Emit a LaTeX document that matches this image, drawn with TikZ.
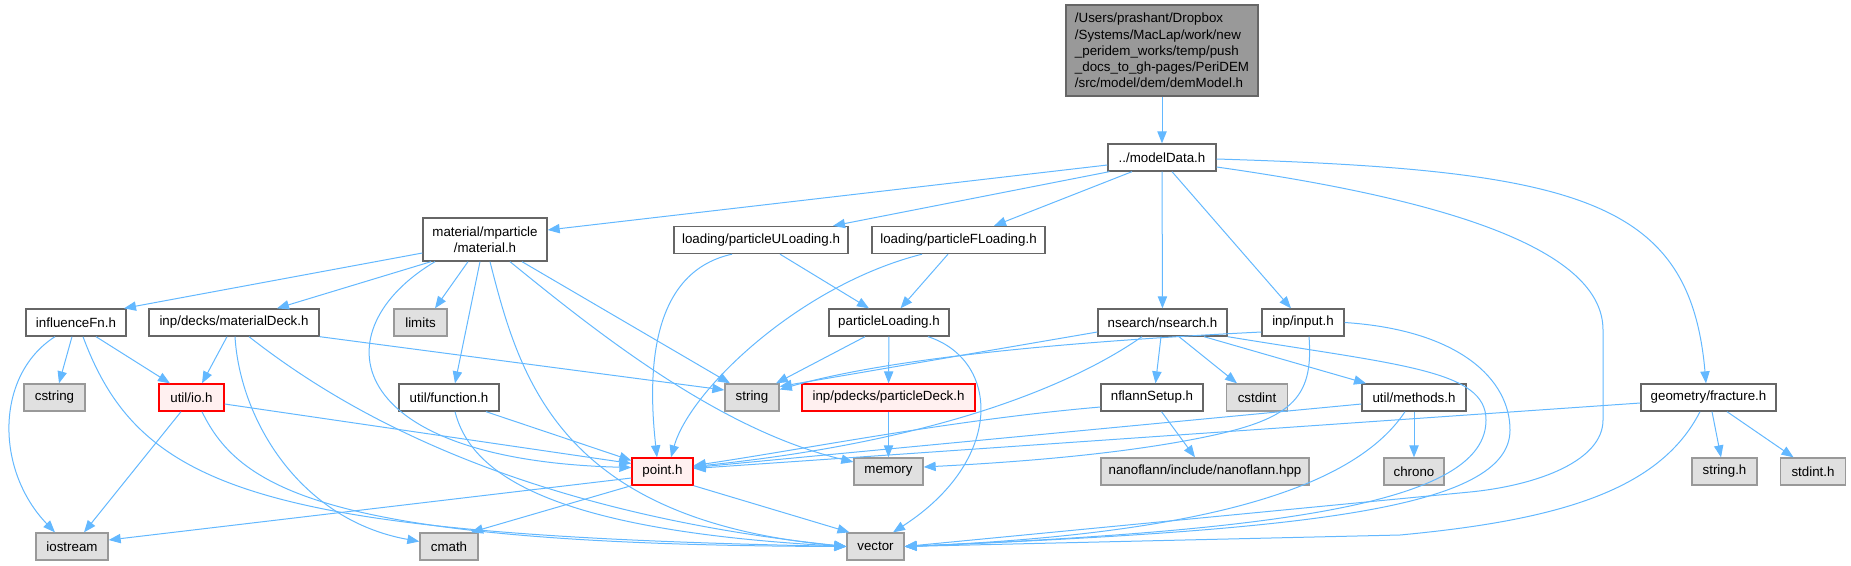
\documentclass[tikz,border=0pt]{standalone}
\usepackage{fontspec}
\setmainfont{Liberation Sans}
\usetikzlibrary{arrows.meta}
\newlength\pxu
\setlength\pxu{0.75pt}
\definecolor{edgeblue}{HTML}{63B8FF}
\definecolor{boxgray}{HTML}{666666}
\definecolor{sysgray}{HTML}{999999}
\definecolor{sysfill}{HTML}{E0E0E0}
\definecolor{topfill}{HTML}{999999}
\definecolor{missfill}{HTML}{FFF0F0}
\begin{document}
\begin{tikzpicture}[x=0.75pt, y=-0.75pt, font=\fontsize{10}{12.2}\selectfont,
    file/.style={draw=boxgray, line width=1pt, fill=white, inner sep=0pt,
                 minimum height=27\pxu},
    sysfile/.style={file, draw=sysgray, fill=sysfill},
    missing/.style={file, draw=red, fill=missfill},
    topfile/.style={file, fill=topfill, align=left, minimum height=91\pxu},
    dep/.style={draw=edgeblue, line width=0.75pt,
                -{Triangle[length=9pt,width=7pt]}}]
  \useasboundingbox (0,0) rectangle (1851,565);
  \node[topfile, minimum width=192\pxu] (demModel) at (1162,50.5)
    {/Users/prashant/Dropbox\\/Systems/MacLap/work/new\\\_peridem\_works/temp/push\\\_docs\_to\_gh-pages/PeriDEM\\/src/model/dem/demModel.h};
  \node[file, minimum width=108\pxu] (modelData) at (1162,157.5) {../modelData.h};
  \node[file, minimum width=124\pxu, minimum height=43\pxu, align=center] (material) at (485,239.5) {material/mparticle\\/material.h};
  \node[file, minimum width=174\pxu] (pULoading) at (761,240) {loading/particleULoading.h};
  \node[file, minimum width=173\pxu] (pFLoading) at (958.5,240) {loading/particleFLoading.h};
  \node[file, minimum width=100\pxu] (influenceFn) at (76,322.5) {influenceFn.h};
  \node[file, minimum width=170\pxu] (materialDeck) at (234,322.5) {inp/decks/materialDeck.h};
  \node[sysfile, minimum width=53\pxu] (limits) at (420.5,322.5) {limits};
  \node[file, minimum width=120\pxu] (pLoading) at (889,322.5) {particleLoading.h};
  \node[file, minimum width=129\pxu] (nsearch) at (1162.5,322.5) {nsearch/nsearch.h};
  \node[file, minimum width=82\pxu] (input) at (1303,322.5) {inp/input.h};
  \node[sysfile, minimum width=61\pxu] (cstring) at (54.5,397.5) {cstring};
  \node[missing, minimum width=65\pxu] (io) at (191.5,397.5) {util/io.h};
  \node[file, minimum width=100\pxu] (function) at (449,397.5) {util/function.h};
  \node[sysfile, minimum width=54\pxu] (string) at (752,397.5) {string};
  \node[missing, minimum width=173\pxu] (pDeck) at (888.5,397.5) {inp/pdecks/particleDeck.h};
  \node[file, minimum width=102\pxu] (nflannSetup) at (1152,397.5) {nflannSetup.h};
  \node[sysfile, minimum width=61\pxu] (cstdint) at (1257,397.5) {cstdint};
  \node[file, minimum width=104\pxu] (methods) at (1414,397.5) {util/methods.h};
  \node[file, minimum width=135\pxu] (fracture) at (1708.5,397.5) {geometry/fracture.h};
  \node[missing, minimum width=61\pxu] (point) at (662.5,471.5) {point.h};
  \node[sysfile, minimum width=69\pxu] (memory) at (888.5,471.5) {memory};
  \node[sysfile, minimum width=208\pxu] (nanoflann) at (1205,471.5) {nanoflann/include/nanoflann.hpp};
  \node[sysfile, minimum width=60\pxu] (chrono) at (1414,471.5) {chrono};
  \node[sysfile, minimum width=65\pxu] (stringh) at (1724.5,471.5) {string.h};
  \node[sysfile, minimum width=65\pxu] (stdinth) at (1813,471.5) {stdint.h};
  \node[sysfile, minimum width=72\pxu] (iostream) at (72,546.5) {iostream};
  \node[sysfile, minimum width=58\pxu] (cmath) at (449,546.5) {cmath};
  \node[sysfile, minimum width=57\pxu] (vector) at (875.5,546.5) {vector};

  \draw[dep] (demModel) -- (modelData);
  \draw[dep] ([yshift=-7.5\pxu]modelData.west) -- ([yshift=9.5\pxu]material.east);
  \draw[dep] ([xshift=2\pxu]modelData.south west) -- ([xshift=72\pxu]pULoading.north);
  \draw[dep] ([xshift=-30\pxu]modelData.south) -- ([xshift=35.5\pxu]pFLoading.north);
  \draw[dep] (modelData) -- (nsearch);
  \draw[dep] ([xshift=10\pxu]modelData.south) -- ([xshift=-12\pxu]input.north);
  \draw[dep] ([yshift=-1.5\pxu]modelData.east) .. controls (1580,170) and (1690,200) .. ([xshift=-2.5\pxu]fracture.north);
  \draw[dep] ([yshift=-9.5\pxu]modelData.east) .. controls (1450,200) and (1603,250) .. (1603,330)
    -- (1603,420) .. controls (1603,460) and (1540,485) .. (1470,492) -- (vector.east);

  \draw[dep] ([yshift=-13.5\pxu]material.west) -- ([xshift=48\pxu]influenceFn.north);
  \draw[dep] ([xshift=-54\pxu]material.south) -- ([xshift=43\pxu]materialDeck.north);
  \draw[dep] ([xshift=-50\pxu]material.south) .. controls (320,330) and (340,460) .. ([yshift=4\pxu]point.west);
  \draw[dep] ([xshift=-17\pxu]material.south) -- ([xshift=14.5\pxu]limits.north);
  \draw[dep] ([xshift=-5\pxu]material.south) -- ([xshift=6\pxu]function.north);
  \draw[dep] ([xshift=5\pxu]material.south) .. controls (520,380) and (560,520) .. (vector.west);
  \draw[dep] ([xshift=25\pxu]material.south) .. controls (600,335) and (720,430) .. ([yshift=9.5\pxu]memory.west);
  \draw[dep] ([xshift=37\pxu]material.south) -- ([xshift=-22\pxu]string.north);

  \draw[dep] ([xshift=-7\pxu]materialDeck.south) -- ([xshift=10.5\pxu]io.north);
  \draw[dep] ([xshift=1\pxu]materialDeck.south) .. controls (240,420) and (300,520) .. ([yshift=5\pxu]cmath.west);
  \draw[dep] ([xshift=15\pxu]materialDeck.south) .. controls (330,400) and (500,510) .. (vector.west);
  \draw[dep] (materialDeck.south east) -- ([yshift=7.5\pxu]string.west);

  \draw[dep] ([xshift=-21\pxu]influenceFn.south) .. controls (-5,375) and (-5,470) .. ([xshift=-17\pxu]iostream.north);
  \draw[dep] ([xshift=-4\pxu]influenceFn.south) -- ([xshift=4.5\pxu]cstring.north);
  \draw[dep] ([xshift=20\pxu]influenceFn.south) -- ([xshift=-21.5\pxu]io.north);
  \draw[dep] ([xshift=7\pxu]influenceFn.south) .. controls (140,490) and (260,535) .. (vector.west);

  \draw[dep] ([xshift=-10.5\pxu]io.south) -- ([xshift=12\pxu]iostream.north);
  \draw[dep] ([xshift=10.5\pxu]io.south) .. controls (240,490) and (330,545) .. (vector.west);
  \draw[dep] ([yshift=-6.5\pxu]io.east) -- ([yshift=8\pxu]point.west);

  \draw[dep] ([xshift=37\pxu]function.south) -- ([yshift=11\pxu]point.west);
  \draw[dep] ([xshift=6\pxu]function.south) .. controls (470,470) and (540,530) .. (vector.west);

  \draw[dep] ([yshift=-6.5\pxu]point.west) -- ([yshift=6.5\pxu]iostream.east);
  \draw[dep] (point.south west) -- ([xshift=22\pxu]cmath.north);
  \draw[dep] (point.south east) -- ([xshift=-26\pxu]vector.north);

  \draw[dep] ([xshift=-29\pxu]pULoading.south) .. controls (660,270) and (645,350) .. ([xshift=-5.5\pxu]point.north);
  \draw[dep] ([xshift=19\pxu]pULoading.south) -- ([xshift=-20\pxu]pLoading.north);
  \draw[dep] ([xshift=-36.5\pxu]pFLoading.south) .. controls (800,285) and (690,390) .. ([xshift=8.5\pxu]point.north);
  \draw[dep] ([xshift=-10.5\pxu]pFLoading.south) -- ([xshift=11.5\pxu]pLoading.north);

  \draw[dep] ([xshift=-24\pxu]pLoading.south) -- ([xshift=24\pxu]string.north);
  \draw[dep] (pLoading) -- (pDeck);
  \draw[dep] ([xshift=39\pxu]pLoading.south) .. controls (1000,360) and (1005,460) .. ([xshift=17.5\pxu]vector.north);
  \draw[dep] (pDeck) -- (memory);

  \draw[dep] ([yshift=-9.5\pxu]nsearch.west) -- ([yshift=11\pxu]string.east);
  \draw[dep] ([xshift=-20.5\pxu]nsearch.south) .. controls (1080,380) and (950,440) .. ([yshift=5\pxu]point.east);
  \draw[dep] ([xshift=-1.5\pxu]nsearch.south) -- ([xshift=3.5\pxu]nflannSetup.north);
  \draw[dep] ([xshift=16.5\pxu]nsearch.south) -- ([xshift=-20\pxu]cstdint.north);
  \draw[dep] ([xshift=41.5\pxu]nsearch.south) -- ([xshift=-48\pxu]methods.north);
  \draw[dep] (nsearch.south east) .. controls (1400,365) and (1486,370) .. (1486,420)
    .. controls (1486,500) and (1300,530) .. (vector.east);

  \draw[dep] ([yshift=-9.5\pxu]input.west) .. controls (1100,340) and (900,355) .. ([yshift=8\pxu]string.east);
  \draw[dep] ([xshift=6\pxu]input.south) .. controls (1314,400) and (1290,420) .. (1200,438)
    .. controls (1110,456) and (1000,463) .. ([yshift=4.5\pxu]memory.east);
  \draw[dep] (input.east) .. controls (1460,330) and (1510,380) .. (1510,430)
    .. controls (1510,510) and (1300,530) .. (vector.east);

  \draw[dep] ([yshift=-9.5\pxu]nflannSetup.west) .. controls (950,420) and (800,450) .. ([yshift=6\pxu]point.east);
  \draw[dep] ([xshift=9.5\pxu]nflannSetup.south) -- ([xshift=-10\pxu]nanoflann.north);

  \draw[dep] ([yshift=-6.5\pxu]methods.west) -- ([yshift=4\pxu]point.east);
  \draw[dep] (methods) -- (chrono);
  \draw[dep] ([xshift=-9\pxu]methods.south) .. controls (1350,495) and (1180,535) .. (vector.east);

  \draw[dep] ([yshift=-5.5\pxu]fracture.west) -- ([yshift=3\pxu]point.east);
  \draw[dep] ([xshift=3.5\pxu]fracture.south) -- ([xshift=-3.5\pxu]stringh.north);
  \draw[dep] ([xshift=18.5\pxu]fracture.south) -- ([xshift=-19.5\pxu]stdinth.north);
  \draw[dep] ([xshift=-8.5\pxu]fracture.south) .. controls (1660,490) and (1560,520) .. (1400,535) -- (vector.east);
\end{tikzpicture}
\end{document}
